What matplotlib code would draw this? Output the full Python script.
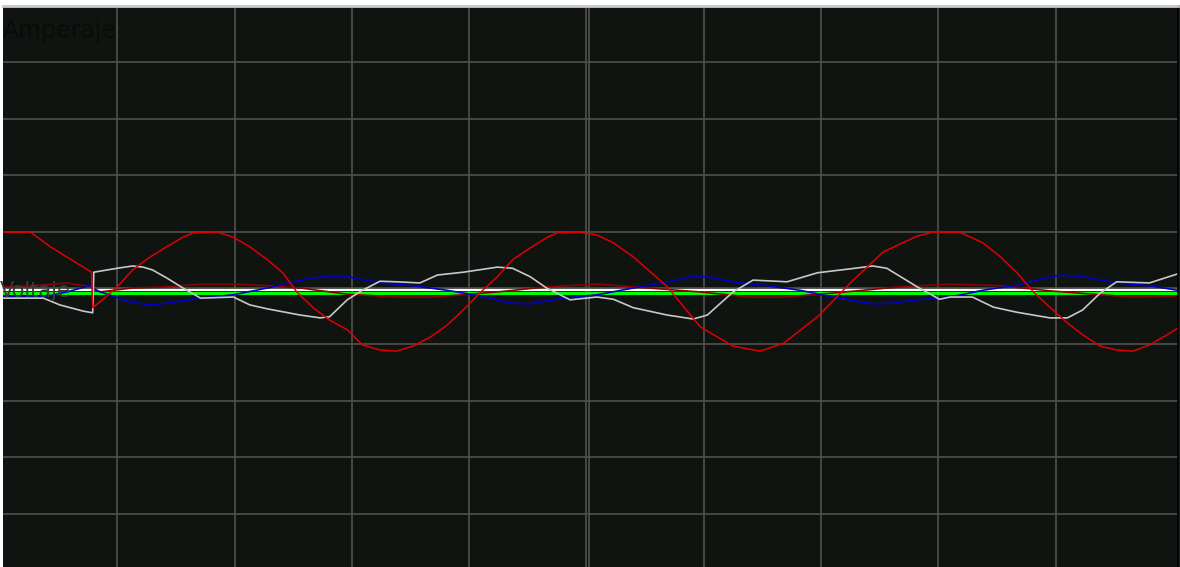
import matplotlib
matplotlib.use("Agg")
import matplotlib.pyplot as plt

# Trazas del osciloscopio: tiempo en divisiones, valor en divisiones
t_rojo = [0.03, 0.26, 0.43, 0.57, 0.71, 0.78, 0.79, 0.85, 1.00, 1.13, 1.28, 1.42, 1.56, 1.65,
          1.85, 1.99, 2.13, 2.28, 2.41, 2.53, 2.67, 2.81, 2.96, 3.09, 3.24, 3.38, 3.52, 3.67,
          3.81, 3.95, 4.09, 4.24, 4.37, 4.52, 4.66, 4.75, 4.94, 5.09, 5.23, 5.40, 5.69, 5.97,
          6.25, 6.48, 6.68, 6.97, 7.25, 7.53, 7.82, 7.95, 8.18, 8.38, 8.53, 8.67, 8.81, 8.95,
          9.10, 9.23, 9.38, 9.52, 9.66, 9.80, 9.95, 10.04]
v_rojo = [0.99, 0.99, 0.73, 0.55, 0.37, 0.28, -0.35, -0.25, 0.02, 0.32, 0.55, 0.73, 0.90, 0.98,
          0.99, 0.90, 0.73, 0.50, 0.27, -0.07, -0.35, -0.57, -0.74, -1.01, -1.10, -1.12, -1.03, -0.87,
          -0.66, -0.39, -0.09, 0.20, 0.50, 0.71, 0.89, 0.98, 0.99, 0.94, 0.80, 0.55, 0.02, -0.69,
          -1.03, -1.12, -0.98, -0.51, 0.09, 0.64, 0.92, 0.99, 0.99, 0.80, 0.55, 0.27, -0.07, -0.34,
          -0.62, -0.83, -1.03, -1.10, -1.12, -1.01, -0.83, -0.71]

t_gris = [0.03, 0.37, 0.51, 0.71, 0.79, 0.80, 1.00, 1.13, 1.22, 1.30, 1.42, 1.56, 1.71, 1.99,
          2.13, 2.28, 2.56, 2.73, 2.81, 2.96, 3.09, 3.24, 3.38, 3.58, 3.73, 3.95, 4.24, 4.37,
          4.52, 4.66, 4.86, 5.09, 5.23, 5.40, 5.69, 5.91, 6.03, 6.25, 6.42, 6.71, 6.97, 7.25,
          7.44, 7.56, 7.82, 8.01, 8.10, 8.29, 8.47, 8.67, 8.95, 9.10, 9.23, 9.38, 9.52, 9.80, 10.04]
v_gris = [-0.18, -0.18, -0.30, -0.41, -0.44, 0.28, 0.35, 0.39, 0.37, 0.32, 0.18, 0.00, -0.18, -0.16,
          -0.30, -0.37, -0.48, -0.53, -0.51, -0.21, -0.04, 0.12, 0.11, 0.09, 0.23, 0.28, 0.37, 0.35,
          0.20, 0.00, -0.21, -0.16, -0.20, -0.35, -0.48, -0.55, -0.48, -0.07, 0.14, 0.11, 0.27, 0.34,
          0.39, 0.35, 0.02, -0.20, -0.16, -0.16, -0.34, -0.43, -0.53, -0.53, -0.39, -0.09, 0.11, 0.09, 0.25]

t_azul = [0.03, 0.37, 0.57, 0.78, 0.79, 1.11, 1.28, 1.42, 1.71, 1.99, 2.28, 2.50, 2.67, 2.81,
          2.96, 3.24, 3.52, 3.81, 4.09, 4.37, 4.52, 4.80, 5.09, 5.40, 5.69, 5.91, 6.03, 6.25,
          6.54, 6.82, 7.10, 7.44, 7.61, 7.82, 8.10, 8.38, 8.67, 8.87, 9.06, 9.23, 9.52, 9.80, 10.04]
v_azul = [-0.16, -0.16, -0.07, 0.05, -0.02, -0.25, -0.30, -0.27, -0.18, -0.12, 0.00, 0.11, 0.18, 0.21,
          0.20, 0.09, 0.04, -0.04, -0.14, -0.27, -0.28, -0.18, -0.12, 0.00, 0.11, 0.21, 0.20, 0.11,
          0.04, -0.04, -0.16, -0.28, -0.27, -0.21, -0.16, -0.04, 0.05, 0.16, 0.23, 0.20, 0.09, 0.04, -0.04]

t_granate = [0.03, 0.28, 0.57, 0.78, 0.85, 1.13, 1.42, 1.71, 1.99, 2.28, 2.56, 2.96, 3.38, 3.67,
             3.95, 4.24, 4.66, 5.09, 5.40, 5.97, 6.39, 6.68, 7.10, 7.67, 8.10, 8.53, 8.95, 9.38,
             9.66, 10.04]
v_granate = [0.02, 0.04, 0.09, 0.02, -0.07, 0.00, 0.02, 0.07, 0.07, 0.04, 0.00, -0.11, -0.16, -0.16,
             -0.12, -0.07, 0.02, 0.07, 0.02, -0.07, -0.16, -0.16, -0.09, 0.02, 0.07, 0.04, -0.05, -0.12,
             -0.16, -0.14]

# Niveles casi constantes
nivel_verde = -0.08
nivel_blanco = -0.03

fig = plt.figure(figsize=(11.8, 5.67), dpi=100, facecolor="white")
ax = fig.add_axes([3 / 1180, 0, 1175 / 1180, 561 / 567])
ax.set_facecolor("#101411")

ax.set_xlim(0.0256, 10.043)
ax.set_ylim(-4.947, 5.0)
ax.set_xticks(range(1, 10))
ax.set_yticks(range(-4, 5))
ax.grid(True, color="#4f524f", linewidth=1.2)
ax.axvline(5.02, color="#4f524f", linewidth=1.2)
ax.tick_params(length=0, labelbottom=False, labelleft=False)

for side in ["left", "bottom"]:
    ax.spines[side].set_visible(False)
ax.spines["top"].set_color("#c8c8c8")
ax.spines["top"].set_linewidth(2)
ax.spines["right"].set_color("#050505")
ax.spines["right"].set_linewidth(2)

ax.text(0.0, 0.955, "Amperaje", transform=ax.transAxes, fontsize=17,
        color="#0a0c0a", va="center", ha="left")
ax.text(-0.004, -0.05, "Voltaje", fontsize=15, color="#3a3a3a",
        va="center", ha="left")

ax.axhline(nivel_verde, color="#00ff00", linewidth=2.2)
ax.axhline(nivel_blanco, color="white", linewidth=1.6)
ax.plot(t_granate, v_granate, color="#8b0000", linewidth=1.2)
ax.plot(t_azul, v_azul, color="#0000c8", linewidth=1.2)
ax.plot(t_gris, v_gris, color="#c8c8c8", linewidth=1.2)
ax.plot(t_rojo, v_rojo, color="#e00000", linewidth=1.1)

fig.savefig("out.png", dpi=100, facecolor="white")
